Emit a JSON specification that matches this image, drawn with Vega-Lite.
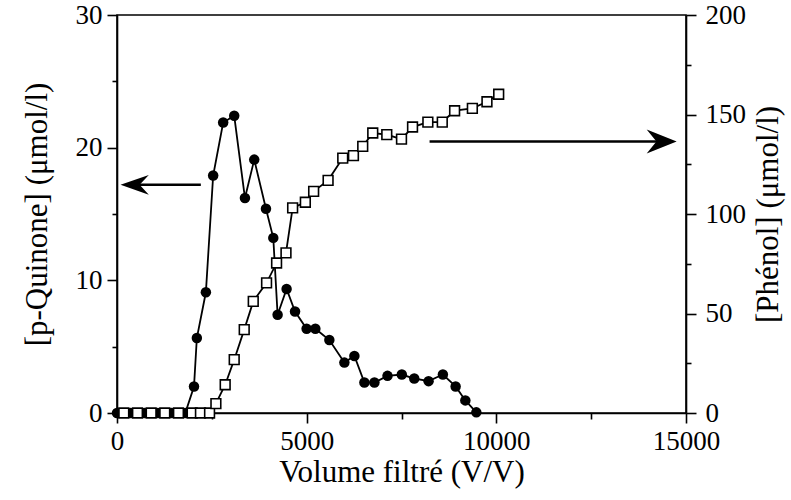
{
  "$schema": "https://vega.github.io/schema/vega-lite/v6.json",
  "width": 569,
  "height": 398,
  "autosize": "none",
  "padding": {"left": 117, "top": 15, "right": 105, "bottom": 87},
  "background": "white",
  "config": {
    "view": {"stroke": "black", "strokeWidth": 1.6},
    "font": "Liberation Serif",
    "axis": {
      "labelFont": "Liberation Serif",
      "titleFont": "Liberation Serif",
      "labelFontSize": 27,
      "titleFontSize": 31,
      "titleFontWeight": "normal",
      "labelColor": "black",
      "titleColor": "black",
      "domainColor": "black",
      "domainWidth": 1.6,
      "tickColor": "black",
      "tickWidth": 1.6,
      "grid": false,
      "labelOverlap": false,
      "labelFlush": false
    }
  },
  "datasets": {
    "quinone": [
      {"v": 0, "c": 0}, {"v": 360, "c": 0}, {"v": 720, "c": 0}, {"v": 1080, "c": 0},
      {"v": 1440, "c": 0}, {"v": 1800, "c": 0},
      {"v": 2030, "c": 2.0}, {"v": 2105, "c": 5.65}, {"v": 2343, "c": 9.1},
      {"v": 2535, "c": 17.9}, {"v": 2799, "c": 21.9}, {"v": 3090, "c": 22.4},
      {"v": 3373, "c": 16.2}, {"v": 3618, "c": 19.1}, {"v": 3927, "c": 15.4},
      {"v": 4120, "c": 13.2}, {"v": 4234, "c": 7.4}, {"v": 4471, "c": 9.35},
      {"v": 4693, "c": 7.65}, {"v": 4999, "c": 6.35}, {"v": 5229, "c": 6.35},
      {"v": 5598, "c": 5.5}, {"v": 5994, "c": 3.8}, {"v": 6258, "c": 4.3},
      {"v": 6522, "c": 2.3}, {"v": 6786, "c": 2.3}, {"v": 7131, "c": 2.8},
      {"v": 7508, "c": 2.9}, {"v": 7836, "c": 2.6}, {"v": 8214, "c": 2.4},
      {"v": 8591, "c": 2.9}, {"v": 8927, "c": 2.0}, {"v": 9183, "c": 0.95},
      {"v": 9473, "c": 0.05}
    ],
    "phenol": [
      {"v": 180, "c": 0}, {"v": 540, "c": 0}, {"v": 900, "c": 0}, {"v": 1260, "c": 0},
      {"v": 1620, "c": 0}, {"v": 1980, "c": 0}, {"v": 2200, "c": 0}, {"v": 2440, "c": 0},
      {"v": 2607, "c": 4.7}, {"v": 2852, "c": 14.2}, {"v": 3090, "c": 26.8},
      {"v": 3354, "c": 41.9}, {"v": 3592, "c": 56.1}, {"v": 3943, "c": 65.4},
      {"v": 4207, "c": 75.4}, {"v": 4455, "c": 80.5}, {"v": 4630, "c": 103.1},
      {"v": 4965, "c": 105.9}, {"v": 5184, "c": 111.4}, {"v": 5565, "c": 116.9},
      {"v": 5951, "c": 128.1}, {"v": 6233, "c": 129.3}, {"v": 6478, "c": 134.0},
      {"v": 6742, "c": 140.7}, {"v": 7112, "c": 139.9}, {"v": 7500, "c": 137.6},
      {"v": 7791, "c": 143.7}, {"v": 8195, "c": 146.2}, {"v": 8575, "c": 146.2},
      {"v": 8900, "c": 151.9}, {"v": 9368, "c": 153.1}, {"v": 9753, "c": 156.4},
      {"v": 10062, "c": 160.2}
    ],
    "arrowLines": [
      {"from": 2210, "to": 300, "c": 17.2},
      {"from": 8240, "to": 14500, "c": 20.47}
    ],
    "arrowHeadsLeft": [{"v": 466, "c": 17.2}],
    "arrowHeadsRight": [{"v": 14359, "c": 20.47}]
  },
  "encoding": {
    "x": {
      "field": "v", "type": "quantitative",
      "scale": {"domain": [0, 15000], "nice": false, "zero": false},
      "axis": {
        "title": "Volume filtré (V/V)",
        "values": [0, 2500, 5000, 7500, 10000, 12500, 15000],
        "format": "d",
        "labelExpr": "datum.value % 5000 === 0 ? datum.label : ''",
        "tickSize": {"condition": {"test": "datum.value % 5000 === 0", "value": 10}, "value": 6},
        "labelPadding": 5,
        "titlePadding": 3
      }
    }
  },
  "layer": [
    {
      "encoding": {
        "y": {
          "field": "c", "type": "quantitative",
          "scale": {"domain": [0, 30], "nice": false},
          "axis": {
            "orient": "left",
            "title": "[p-Quinone] (μmol/l)",
            "values": [0, 5, 10, 15, 20, 25, 30],
            "labelExpr": "datum.value % 10 === 0 ? datum.label : ''",
            "tickSize": {"condition": {"test": "datum.value % 10 === 0", "value": 10}, "value": 5},
            "labelPadding": 5,
            "titlePadding": 22
          }
        }
      },
      "layer": [
        {
          "data": {"name": "quinone"},
          "mark": {"type": "line", "color": "black", "strokeWidth": 1.8},
          "encoding": {}
        },
        {
          "data": {"name": "quinone"},
          "mark": {"type": "point", "shape": "circle", "filled": true, "color": "black", "size": 110, "opacity": 1},
          "encoding": {}
        },
        {
          "data": {"name": "arrowLines"},
          "mark": {"type": "rule", "color": "black", "strokeWidth": 2.4},
          "encoding": {
            "x": {"field": "from", "type": "quantitative"},
            "x2": {"field": "to"}
          }
        },
        {
          "data": {"name": "arrowHeadsLeft"},
          "mark": {"type": "point", "shape": "M-1,0L1,-0.7L0.35,0L1,0.7Z", "filled": true, "color": "black", "size": 800, "opacity": 1},
          "encoding": {}
        },
        {
          "data": {"name": "arrowHeadsRight"},
          "mark": {"type": "point", "shape": "M1,0L-1,-0.8L-0.35,0L-1,0.8Z", "filled": true, "color": "black", "size": 900, "opacity": 1},
          "encoding": {}
        }
      ]
    },
    {
      "encoding": {
        "y": {
          "field": "c", "type": "quantitative",
          "scale": {"domain": [0, 200], "nice": false},
          "axis": {
            "orient": "right",
            "title": "[Phénol] (μmol/l)",
            "titleAngle": 270,
            "titleBaseline": "top",
            "values": [0, 25, 50, 75, 100, 125, 150, 175, 200],
            "labelExpr": "datum.value % 50 === 0 ? datum.label : ''",
            "tickSize": {"condition": {"test": "datum.value % 50 === 0", "value": 10}, "value": 5},
            "labelPadding": 9,
            "titlePadding": 8
          }
        }
      },
      "layer": [
        {
          "data": {"name": "phenol"},
          "mark": {"type": "line", "color": "black", "strokeWidth": 1.8},
          "encoding": {}
        },
        {
          "data": {"name": "phenol"},
          "mark": {"type": "point", "shape": "square", "filled": true, "fill": "white", "stroke": "black", "strokeWidth": 1.6, "size": 95, "opacity": 1},
          "encoding": {}
        }
      ]
    }
  ],
  "resolve": {"scale": {"y": "independent"}, "axis": {"y": "independent"}}
}
